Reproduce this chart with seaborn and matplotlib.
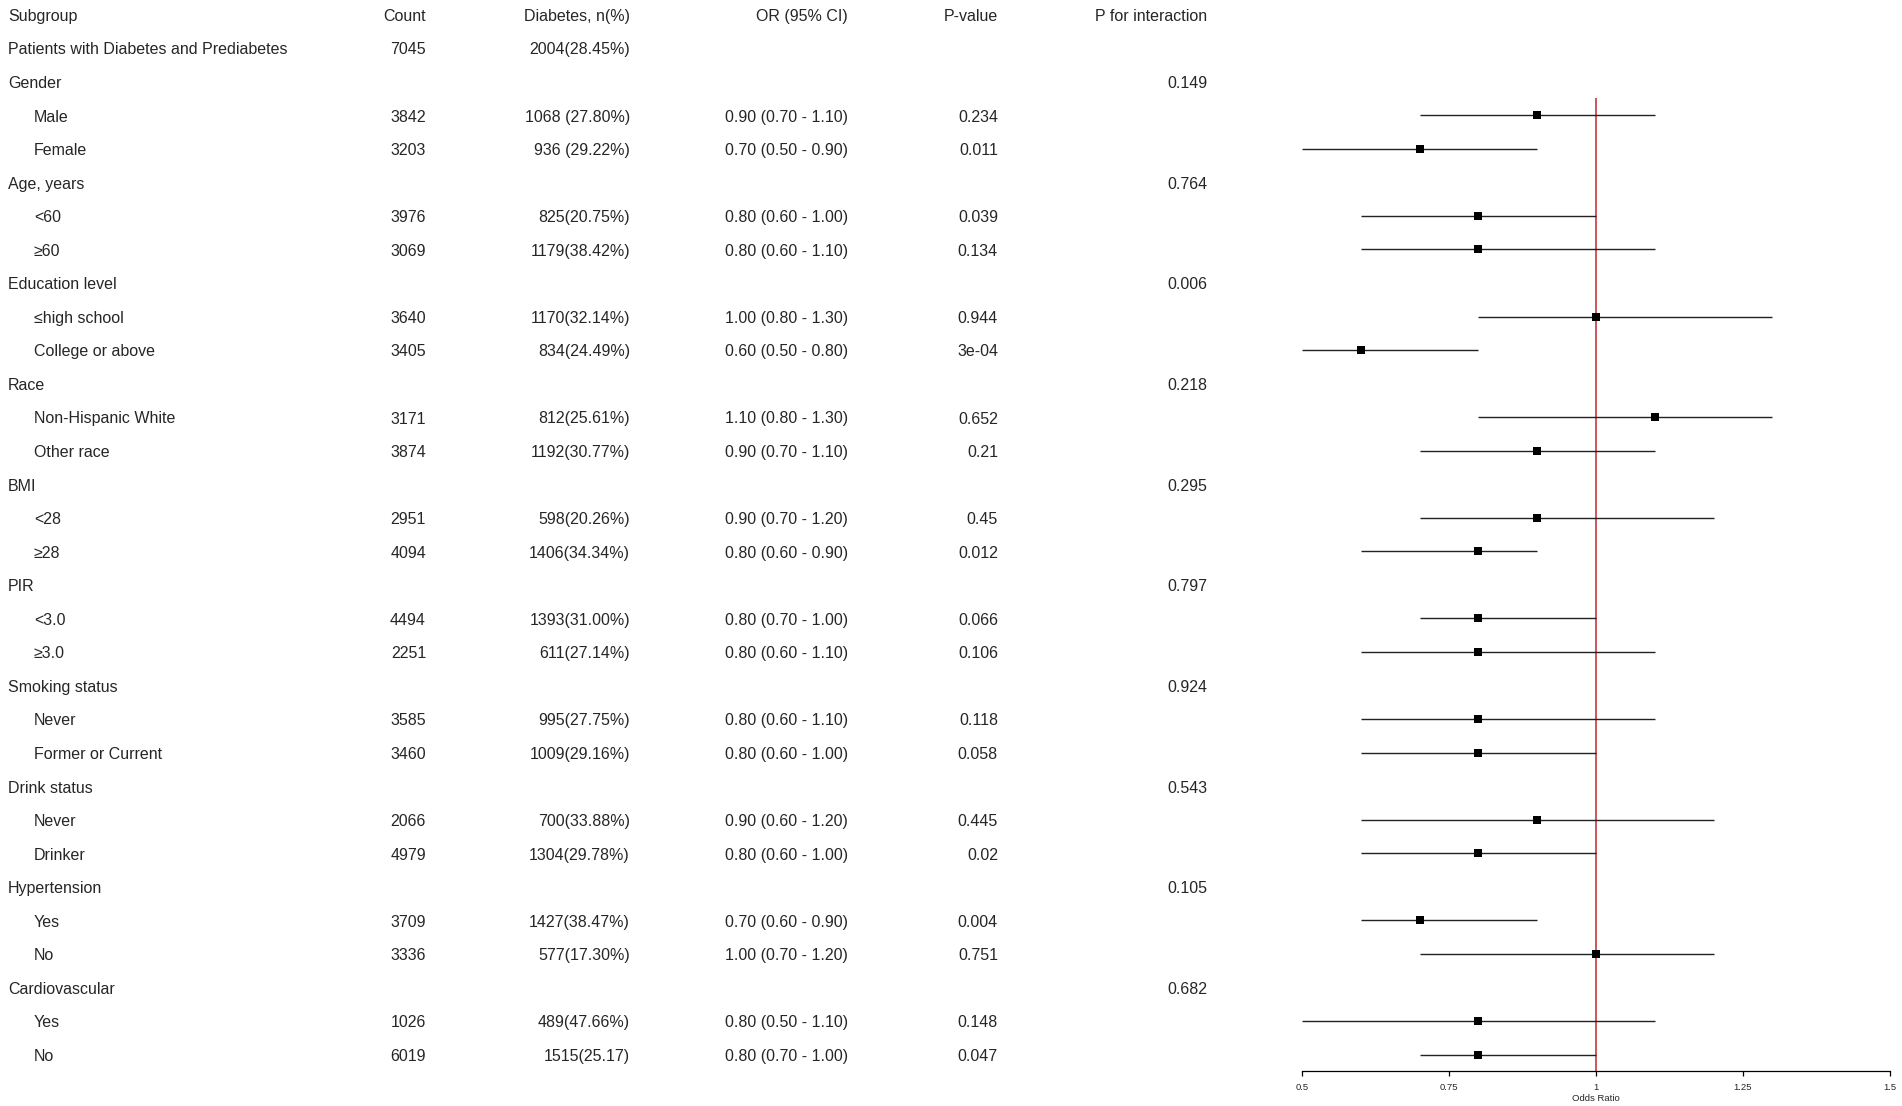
import numpy as np
import pandas as pd
import matplotlib
matplotlib.use("Agg")
import matplotlib.pyplot as plt
import seaborn as sns

# table data (row 0 is the overall row, headers have no estimate)
labels = ["Patients with Diabetes and Prediabetes",
          "Gender", "Male", "Female",
          "Age, years", "<60", "≥60",
          "Education level", "≤high school", "College or above",
          "Race", "Non-Hispanic White", "Other race",
          "BMI", "<28", "≥28",
          "PIR", "<3.0", "≥3.0",
          "Smoking status", "Never", "Former or Current",
          "Drink status", "Never", "Drinker",
          "Hypertension", "Yes", "No",
          "Cardiovascular", "Yes", "No"]
is_sub = [0, 0, 1, 1, 0, 1, 1, 0, 1, 1, 0, 1, 1, 0, 1, 1,
          0, 1, 1, 0, 1, 1, 0, 1, 1, 0, 1, 1, 0, 1, 1]
counts = ["7045", "", "3842", "3203", "", "3976", "3069", "", "3640", "3405",
          "", "3171", "3874", "", "2951", "4094", "", "4494", "2251", "",
          "3585", "3460", "", "2066", "4979", "", "3709", "3336", "", "1026", "6019"]
diabetes = ["2004(28.45%)", "", "1068 (27.80%)", "936 (29.22%)", "",
            "825(20.75%)", "1179(38.42%)", "", "1170(32.14%)", "834(24.49%)", "",
            "812(25.61%)", "1192(30.77%)", "", "598(20.26%)", "1406(34.34%)", "",
            "1393(31.00%)", "611(27.14%)", "", "995(27.75%)", "1009(29.16%)", "",
            "700(33.88%)", "1304(29.78%)", "", "1427(38.47%)", "577(17.30%)", "",
            "489(47.66%)", "1515(25.17)"]
nan = np.nan
odds = [nan, nan, 0.9, 0.7, nan, 0.8, 0.8, nan, 1.0, 0.6, nan, 1.1, 0.9, nan, 0.9, 0.8,
        nan, 0.8, 0.8, nan, 0.8, 0.8, nan, 0.9, 0.8, nan, 0.7, 1.0, nan, 0.8, 0.8]
lower = [nan, nan, 0.7, 0.5, nan, 0.6, 0.6, nan, 0.8, 0.5, nan, 0.8, 0.7, nan, 0.7, 0.6,
         nan, 0.7, 0.6, nan, 0.6, 0.6, nan, 0.6, 0.6, nan, 0.6, 0.7, nan, 0.5, 0.7]
upper = [nan, nan, 1.1, 0.9, nan, 1.0, 1.1, nan, 1.3, 0.8, nan, 1.3, 1.1, nan, 1.2, 0.9,
         nan, 1.0, 1.1, nan, 1.1, 1.0, nan, 1.2, 1.0, nan, 0.9, 1.2, nan, 1.1, 1.0]
pvals = ["", "", "0.234", "0.011", "", "0.039", "0.134", "", "0.944", "3e-04", "",
         "0.652", "0.21", "", "0.45", "0.012", "", "0.066", "0.106", "", "0.118", "0.058",
         "", "0.445", "0.02", "", "0.004", "0.751", "", "0.148", "0.047"]
p_inter = ["", "0.149", "", "", "0.764", "", "", "0.006", "", "", "0.218", "", "",
           "0.295", "", "", "0.797", "", "", "0.924", "", "", "0.543", "", "",
           "0.105", "", "", "0.682", "", ""]

df = pd.DataFrame({"label": labels, "sub": is_sub, "count": counts, "diab": diabetes,
                   "OR": odds, "lo": lower, "hi": upper, "p": pvals, "pint": p_inter})
df["row"] = np.arange(len(df)) + 1  # header is row 0

sns.set_theme(style="white")
plt.rcParams["font.family"] = ["Liberation Sans", "DejaVu Sans"]

W, H = 1902, 1106
fig = plt.figure(figsize=(W / 100, H / 100), dpi=100)

# text layer in pixel units
ax_t = fig.add_axes([0, 0, 1, 1])
ax_t.set_xlim(0, W)
ax_t.set_ylim(H, 0)
ax_t.axis("off")

y0, dy = 14.6, 33.55
fs = 11.5
txt_off = 1.8  # text sits a touch lower than the marks

def ypix(r):
    return y0 + r * dy

headers = [("Subgroup", 8, "left"), ("Count", 426, "right"), ("Diabetes, n(%)", 630, "right"),
           ("OR (95% CI)", 848, "right"), ("P-value", 998, "right"),
           ("P for interaction", 1207, "right")]
for txt, x, ha in headers:
    ax_t.text(x, ypix(0) + txt_off, txt, ha=ha, va="center", fontsize=fs)

for _, r in df.iterrows():
    y = ypix(r["row"]) + txt_off
    ax_t.text(34 if r["sub"] else 8, y, r["label"], ha="left", va="center", fontsize=fs)
    ax_t.text(426, y, r["count"], ha="right", va="center", fontsize=fs)
    ax_t.text(630, y, r["diab"], ha="right", va="center", fontsize=fs)
    if not np.isnan(r["OR"]):
        ax_t.text(848, y, f"{r['OR']:.2f} ({r['lo']:.2f} - {r['hi']:.2f})",
                  ha="right", va="center", fontsize=fs)
    ax_t.text(998, y, r["p"], ha="right", va="center", fontsize=fs)
    ax_t.text(1207, y, r["pint"], ha="right", va="center", fontsize=fs)

# forest panel
x_left, x_right = 1302, 1890
top_r, bot_r = 2.5, 31.5
y_top, y_bot = ypix(top_r), ypix(bot_r)
ax = fig.add_axes([x_left / W, 1 - y_bot / H, (x_right - x_left) / W, (y_bot - y_top) / H])
ax.set_xlim(0.5, 1.5)
ax.set_ylim(bot_r, top_r)
ax.patch.set_alpha(0)

est = df.dropna(subset=["OR"])
ax.hlines(est["row"], est["lo"], est["hi"], color="#222222", lw=1.0, zorder=2)
sns.scatterplot(data=est, x="OR", y="row", marker="s", s=34, color="black",
                edgecolor="black", linewidth=0, ax=ax, zorder=3, legend=False)
ax.axvline(1.0, color="#c0282d", lw=1.1, zorder=1)

for side in ["top", "right", "left"]:
    ax.spines[side].set_visible(False)
ax.spines["bottom"].set_color("black")
ax.spines["bottom"].set_linewidth(0.9)
ax.set_yticks([])
ax.set_xticks([0.5, 0.75, 1.0, 1.25, 1.5])
ax.set_xticklabels(["0.5", "0.75", "1", "1.25", "1.5"])
ax.tick_params(axis="x", bottom=True, length=3.5, width=0.9, color="black",
               labelsize=6.8, pad=5)
ax.set_xlabel("Odds Ratio", fontsize=6.8, labelpad=1.5)
ax.set_ylabel("")

fig.savefig("out.png", dpi=100)
